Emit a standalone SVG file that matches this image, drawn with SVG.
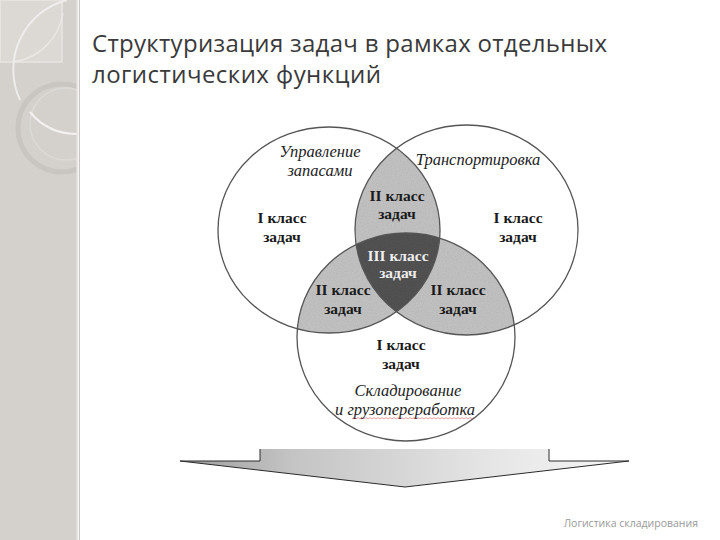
<svg xmlns="http://www.w3.org/2000/svg" xmlns:xlink="http://www.w3.org/1999/xlink" width="720" height="540" viewBox="0 0 720 540">
<style>
.title{font-family:"Open Sans","Noto Sans",sans-serif;font-size:24px;fill:#3a3a3a}
.cls{font-family:"Liberation Serif","Times New Roman",serif;font-weight:bold;font-size:15.5px;fill:#1a1a1a;text-anchor:middle}
.cls3{fill:#eeeeee}
.lbl{font-family:"Liberation Serif","Times New Roman",serif;font-style:italic;font-size:16.5px;fill:#222;text-anchor:middle}
.ring{fill:none;stroke:#555;stroke-width:1.3}
.foot{font-family:"Open Sans","Noto Sans",sans-serif;font-size:10.5px;fill:#9a9a9a}
</style>
<defs>
<ellipse id="eA" cx="329" cy="230" rx="111" ry="103"/>
<ellipse id="eB" cx="466.5" cy="230" rx="111.5" ry="105"/>
<ellipse id="eC" cx="406" cy="337" rx="109" ry="104"/>
<clipPath id="cA"><use xlink:href="#eA"/></clipPath>
<clipPath id="cB"><use xlink:href="#eB"/></clipPath>
<clipPath id="cC"><use xlink:href="#eC"/></clipPath>
<clipPath id="cStrip"><rect x="0" y="0" width="77" height="540"/></clipPath>
<linearGradient id="gArrow" x1="0" y1="0" x2="1" y2="0">
<stop offset="0" stop-color="#9c9c9c"/>
<stop offset="0.25" stop-color="#c4c4c4"/>
<stop offset="0.7" stop-color="#e6e6e6"/>
<stop offset="1" stop-color="#f6f6f6"/>
</linearGradient>
<filter id="grain" x="0" y="0" width="1" height="1">
<feTurbulence type="fractalNoise" baseFrequency="0.8" numOctaves="2" seed="3" result="n"/>
<feColorMatrix in="n" type="matrix" values="0 0 0 0 0  0 0 0 0 0  0 0 0 0 0  0 0 0 0.18 0" result="na"/>
<feComposite in="na" in2="SourceGraphic" operator="in" result="nc"/>
<feMerge><feMergeNode in="SourceGraphic"/><feMergeNode in="nc"/></feMerge>
</filter>
</defs>

<g id="background">
<rect x="0" y="0" width="720" height="540" fill="#ffffff"/>
<rect x="0" y="0" width="77" height="540" fill="#d4d1cd"/>
<g clip-path="url(#cStrip)">
<rect x="0" y="0" width="62" height="62" fill="#dcd9d5" stroke="#e7e5e2" stroke-width="1.5"/>
<path d="M67,0 A72,72 0 0 0 20,100" fill="none" stroke="#f4f3f1" stroke-width="2" opacity="0.8"/>
<path d="M63,13 A58,58 0 0 1 13,62" fill="none" stroke="#ecebe8" stroke-width="1.5" opacity="0.8"/>
<circle cx="62" cy="128" r="44" fill="none" stroke="#c9c6c2" stroke-width="5"/>
<circle cx="66" cy="124" r="36" fill="none" stroke="#dcdad6" stroke-width="1.5"/>
<path d="M30,112 Q48,134 77,134" fill="none" stroke="#f2f1ef" stroke-width="2"/>
</g>
<line x1="77.5" y1="0" x2="77.5" y2="540" stroke="#e9e7e4" stroke-width="2"/>
<line x1="79.5" y1="0" x2="79.5" y2="540" stroke="#c9c6c2" stroke-width="1"/>
</g>

<g id="title">
<text class="title" x="92" y="52" textLength="515" lengthAdjust="spacing">Структуризация задач в рамках отдельных</text>
<text class="title" x="92" y="83" textLength="289" lengthAdjust="spacing">логистических функций</text>
</g>

<g id="overlaps" filter="url(#grain)">
<g clip-path="url(#cA)"><use xlink:href="#eB" fill="#c6c6c6"/></g>
<g clip-path="url(#cA)"><use xlink:href="#eC" fill="#c6c6c6"/></g>
<g clip-path="url(#cB)"><use xlink:href="#eC" fill="#c6c6c6"/></g>
<g clip-path="url(#cA)"><g clip-path="url(#cB)"><use xlink:href="#eC" fill="#545454"/></g></g>
</g>

<g id="node-zapasy">
<use xlink:href="#eA" class="ring"/>
<text class="lbl" x="320" y="157">Управление</text>
<text class="lbl" x="320" y="176">запасами</text>
<text class="cls" x="282" y="223">I класс</text>
<text class="cls" x="282" y="242">задач</text>
</g>

<g id="node-transport">
<use xlink:href="#eB" class="ring"/>
<text class="lbl" x="478" y="165">Транспортировка</text>
<text class="cls" x="518" y="223">I класс</text>
<text class="cls" x="518" y="242">задач</text>
</g>

<g id="node-sklad">
<use xlink:href="#eC" class="ring"/>
<text class="cls" x="401" y="350">I класс</text>
<text class="cls" x="401" y="369">задач</text>
<text class="lbl" x="408" y="396">Складирование</text>
<text class="lbl" x="405" y="415">и грузопереработка</text>
<path d="M352,419 l2,-1.5 l2,1.5 l2,-1.5 l2,1.5 l2,-1.5 l2,1.5 l2,-1.5 l2,1.5 l2,-1.5 l2,1.5 l2,-1.5 l2,1.5 l2,-1.5 l2,1.5 l2,-1.5 l2,1.5 l2,-1.5 l2,1.5 l2,-1.5 l2,1.5 l2,-1.5 l2,1.5 l2,-1.5 l2,1.5 l2,-1.5 l2,1.5 l2,-1.5 l2,1.5 l2,-1.5 l2,1.5 l2,-1.5 l2,1.5 l2,-1.5 l2,1.5 l2,-1.5 l2,1.5 l2,-1.5 l2,1.5 l2,-1.5 l2,1.5 l2,-1.5 l2,1.5 l2,-1.5 l2,1.5 l2,-1.5 l2,1.5 l2,-1.5 l2,1.5 l2,-1.5 l2,1.5 l2,-1.5 l2,1.5 l2,-1.5 l2,1.5 l2,-1.5 l2,1.5 l2,-1.5 l2,1.5 l2,-1.5 l2,1.5 l2,-1.5" fill="none" stroke="#d04040" stroke-width="0.7" opacity="0.7"/>
</g>

<g id="node-class2-top">
<text class="cls" x="397" y="201">II класс</text>
<text class="cls" x="397" y="219">задач</text>
</g>
<g id="node-class2-left">
<text class="cls" x="343" y="295">II класс</text>
<text class="cls" x="343" y="314">задач</text>
</g>
<g id="node-class2-right">
<text class="cls" x="458" y="295">II класс</text>
<text class="cls" x="458" y="314">задач</text>
</g>
<g id="node-class3">
<text class="cls cls3" x="398" y="261">III класс</text>
<text class="cls cls3" x="398" y="278">задач</text>
</g>

<g id="connectors">
<polygon points="260,449 549,449 549,461 629,461 405,487 180,461 260,461" fill="url(#gArrow)"/>
<polyline points="260,449 260,461 180,461 405,487 629,461 549,461 549,449" fill="none" stroke="#2a2a2a" stroke-width="1"/>
</g>

<g id="footer">
<text class="foot" x="698" y="527" text-anchor="end">Логистика складирования</text>
</g>
</svg>
